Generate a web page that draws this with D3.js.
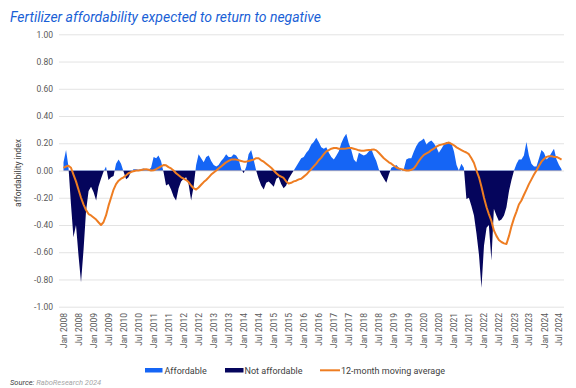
<!DOCTYPE html>
<html>
<head>
<meta charset="utf-8">
<script src="https://cdn.jsdelivr.net/npm/d3@7"></script>
<style>
  body { margin: 0; background: #fff; }
  text { font-family: Roboto, "Liberation Sans", sans-serif; }
</style>
</head>
<body>
<div class="chart"></div>
<script>
var svgWidth = 576;
var svgHeight = 388;

// monthly affordability index, Jan 2008 - Aug 2024
var affordability = [
  0.06, 0.15, 0.03, -0.25, -0.49, -0.40, -0.62, -0.82, -0.58, -0.30, -0.15, -0.12,
  -0.16, -0.22, -0.12, -0.06, -0.01, 0.03, -0.07, -0.05, -0.04, 0.05, 0.08, 0.05,
  -0.01, -0.065, -0.05, -0.01, 0.01, 0.01, 0.005, 0.01, 0.015, 0.01, 0.005, 0.02,
  0.10, 0.09, 0.11, 0.07, -0.01, -0.11, -0.10, -0.14, -0.19, -0.22, -0.13, -0.08,
  -0.06, -0.05, -0.10, -0.22, -0.12, 0.04, 0.12, 0.09, 0.06, 0.10, 0.11, 0.07,
  0.04, 0.03, 0.04, 0.07, 0.09, 0.12, 0.10, 0.10, 0.12, 0.11, 0.08, 0.01,
  -0.02, 0.03, 0.12, 0.15, 0.08, 0.00, -0.06, -0.11, -0.14, -0.09, -0.08, -0.10,
  -0.12, -0.06, -0.05, -0.10, -0.13, -0.11, -0.06, -0.03, 0.00, 0.03, 0.06, 0.09,
  0.10, 0.13, 0.15, 0.19, 0.21, 0.24, 0.21, 0.17, 0.16, 0.17, 0.13, 0.10,
  0.08, 0.11, 0.14, 0.20, 0.24, 0.27, 0.20, 0.15, 0.08, 0.06, 0.13, 0.12,
  0.11, 0.12, 0.14, 0.16, 0.11, 0.07, 0.01, -0.03, -0.06, -0.09, -0.03, 0.02,
  0.03, 0.04, 0.02, 0.00, 0.01, 0.08, 0.09, 0.09, 0.14, 0.18, 0.21, 0.22,
  0.235, 0.19, 0.21, 0.22, 0.20, 0.17, 0.13, 0.16, 0.19, 0.21, 0.21, 0.20,
  0.14, 0.04, 0.00, 0.05, 0.02, -0.21, -0.20, -0.26, -0.33, -0.46, -0.62, -0.86,
  -0.55, -0.42, -0.40, -0.66, -0.28, -0.33, -0.37, -0.36, -0.33, -0.27, -0.15, -0.07,
  0.00, 0.05, 0.08, 0.08, 0.11, 0.21, 0.11, 0.05, 0.03, 0.03, 0.09, 0.15,
  0.13, 0.08, 0.10, 0.13, 0.16, 0.08, 0.04, 0.01
];

// 12-month moving average
var movingAvg = [
  0.02, 0.03, 0.035, 0.02, -0.03, -0.08, -0.14, -0.20, -0.25, -0.29, -0.32, -0.33,
  -0.345, -0.36, -0.38, -0.40, -0.38, -0.33, -0.26, -0.20, -0.14, -0.10, -0.075, -0.06,
  -0.05, -0.035, -0.02, -0.012, -0.005, 0.0, 0.0, 0.003, 0.007, 0.01, 0.005, 0.0,
  0.002, 0.01, 0.02, 0.03, 0.04, 0.038, 0.025, 0.015, 0.0, -0.02, -0.035, -0.05,
  -0.06, -0.07, -0.085, -0.11, -0.13, -0.14, -0.125, -0.105, -0.085, -0.07, -0.05, -0.03,
  -0.015, 0.0, 0.015, 0.03, 0.045, 0.06, 0.07, 0.08, 0.08, 0.08, 0.075, 0.07,
  0.065, 0.065, 0.07, 0.075, 0.08, 0.09, 0.09, 0.075, 0.065, 0.05, 0.035, 0.02,
  0.0, -0.02, -0.035, -0.045, -0.055, -0.08, -0.095, -0.09, -0.08, -0.075, -0.065, -0.06,
  -0.045, -0.03, -0.01, 0.01, 0.03, 0.05, 0.075, 0.095, 0.12, 0.14, 0.15, 0.16,
  0.165, 0.165, 0.16, 0.16, 0.16, 0.162, 0.165, 0.165, 0.16, 0.155, 0.148, 0.145,
  0.145, 0.148, 0.15, 0.152, 0.155, 0.148, 0.13, 0.11, 0.09, 0.075, 0.06, 0.05,
  0.035, 0.022, 0.015, 0.01, 0.005, 0.0, 0.0, 0.005, 0.015, 0.04, 0.07, 0.095,
  0.115, 0.125, 0.135, 0.15, 0.16, 0.175, 0.185, 0.19, 0.195, 0.20, 0.205, 0.195,
  0.185, 0.17, 0.16, 0.15, 0.14, 0.132, 0.12, 0.09, 0.055, 0.0, -0.05, -0.12,
  -0.20, -0.27, -0.32, -0.37, -0.44, -0.48, -0.51, -0.525, -0.535, -0.54, -0.48, -0.41,
  -0.35, -0.30, -0.25, -0.22, -0.18, -0.14, -0.10, -0.065, -0.03, 0.0, 0.035, 0.065,
  0.085, 0.10, 0.105, 0.105, 0.10, 0.10, 0.09, 0.08
];

var tickLabels = [
  "Jan 2008", "Jul 2008", "Jan 2009", "Jul 2009", "Jan 2010", "Jul 2010",
  "Jan 2011", "Jul 2011", "Jan 2012", "Jul 2012", "Jan 2013", "Jul 2013",
  "Jan 2014", "Jul 2014", "Jan 2015", "Jul 2015", "Jan 2016", "Jul 2016",
  "Jan 2017", "Jul 2017", "Jan 2018", "Jul 2018", "Jan 2019", "Jul 2019",
  "Jan 2020", "Jul 2020", "Jan 2021", "Jul 2021", "Jan 2022", "Jul 2022",
  "Jan 2023", "Jul 2023", "Jan 2024", "Jul 2024"
];
var yTicks = [1, 0.8, 0.6, 0.4, 0.2, 0, -0.2, -0.4, -0.6, -0.8, -1];

var blue = "#1565f5";
var navy = "#05055c";
var orange = "#ee7d22";

var months = d3.utcMonth.range(new Date(Date.UTC(2008, 0, 1)), new Date(Date.UTC(2024, 8, 1)));
var data = months.map(function(d, i) {
  return {date: d, v: affordability[i], ma: movingAvg[i]};
});
var parseTick = d3.utcParse("%b %Y");
var tickDates = tickLabels.map(parseTick);

var svg = d3.select(".chart")
  .append("svg")
  .attr("width", svgWidth)
  .attr("height", svgHeight);

var plotLeft = 59, plotRight = 564;

var x = d3.scaleUtc()
  .domain([parseTick("Jan 2008"), parseTick("Jul 2024")])
  .range([63.5, 559]);
var y = d3.scaleLinear().domain([-1, 1]).range([306.7, 34.3]);

// gridlines
svg.append("g")
  .attr("transform", "translate(" + plotLeft + ",0)")
  .call(d3.axisLeft(y).tickValues(yTicks).tickSize(-(plotRight - plotLeft)).tickFormat(""))
  .call(function(g) {
    g.select(".domain").remove();
    g.selectAll("line").attr("stroke", "#e3e3e3").attr("stroke-width", 1);
  });

// y labels
svg.append("g")
  .attr("transform", "translate(53,0)")
  .call(d3.axisLeft(y).tickValues(yTicks).tickSize(0).tickPadding(0)
    .tickFormat(function(d) { return d.toFixed(2); }))
  .call(function(g) {
    g.select(".domain").remove();
    g.selectAll("text").attr("fill", "#595959").style("font-size", "8.5px");
  });

// clip areas above/below zero
var defs = svg.append("defs");
defs.append("clipPath").attr("id", "above")
  .append("rect").attr("x", 0).attr("y", 0).attr("width", svgWidth).attr("height", y(0));
defs.append("clipPath").attr("id", "below")
  .append("rect").attr("x", 0).attr("y", y(0)).attr("width", svgWidth).attr("height", svgHeight - y(0));

var area = d3.area()
  .x(function(d) { return x(d.date); })
  .y0(y(0))
  .y1(function(d) { return y(d.v); });

svg.append("path").datum(data)
  .attr("clip-path", "url(#above)")
  .attr("fill", blue)
  .attr("d", area);
svg.append("path").datum(data)
  .attr("clip-path", "url(#below)")
  .attr("fill", navy)
  .attr("d", area);

var line = d3.line()
  .x(function(d) { return x(d.date); })
  .y(function(d) { return y(d.ma); });

svg.append("path").datum(data)
  .attr("fill", "none")
  .attr("stroke", orange)
  .attr("stroke-width", 2)
  .attr("stroke-linejoin", "round")
  .attr("d", line);

// x axis labels
svg.append("g")
  .attr("transform", "translate(0,311)")
  .call(d3.axisBottom(x).tickValues(tickDates).tickSize(0)
    .tickFormat(function(d, i) { return tickLabels[i]; }))
  .call(function(g) {
    g.select(".domain").remove();
    g.selectAll("text")
      .attr("transform", "rotate(-90)")
      .attr("x", -2)
      .attr("y", 0)
      .attr("dy", "0.35em")
      .attr("text-anchor", "end")
      .attr("fill", "#595959")
      .style("font-size", "8.5px");
  });

// y axis title
svg.append("text")
  .attr("transform", "translate(21,173) rotate(-90)")
  .attr("text-anchor", "middle")
  .attr("fill", "#404040")
  .style("font-size", "8.5px")
  .text("affordability index");

// title
svg.append("text")
  .attr("x", 10)
  .attr("y", 22)
  .attr("fill", "#1a5fd6")
  .style("font-size", "14px")
  .style("font-style", "italic")
  .attr("textLength", 311)
  .attr("lengthAdjust", "spacingAndGlyphs")
  .text("Fertilizer affordability expected to return to negative");

// legend
var legend = svg.append("g").attr("class", "legend");
legend.append("rect").attr("x", 145).attr("y", 368).attr("width", 17.5).attr("height", 4.5).attr("fill", blue);
legend.append("text").attr("x", 164.5).attr("y", 373.5).attr("fill", "#404040").style("font-size", "9px").text("Affordable");
legend.append("rect").attr("x", 225).attr("y", 368).attr("width", 18.5).attr("height", 4.5).attr("fill", navy);
legend.append("text").attr("x", 244.5).attr("y", 373.5).attr("fill", "#404040").style("font-size", "9px").text("Not affordable");
legend.append("line").attr("x1", 320).attr("x2", 340).attr("y1", 370.3).attr("y2", 370.3)
  .attr("stroke", orange).attr("stroke-width", 2);
legend.append("text").attr("x", 341).attr("y", 373.5).attr("fill", "#404040").style("font-size", "9px").text("12-month moving average");

// source
var src = svg.append("text")
  .attr("x", 10)
  .attr("y", 385)
  .style("font-size", "7.5px")
  .style("font-style", "italic");
src.append("tspan").attr("fill", "#404040").text("Source: ");
src.append("tspan").attr("fill", "#a6a6a6").text("RaboResearch 2024");
</script>
</body>
</html>
